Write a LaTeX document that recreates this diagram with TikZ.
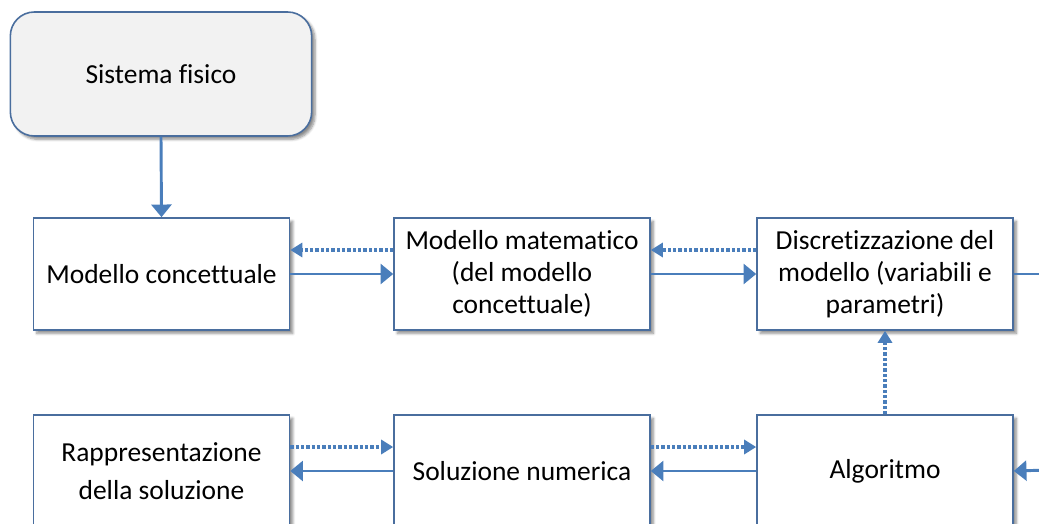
\documentclass[tikz,border=0pt]{standalone}
\usepackage{fontspec}
\setmainfont{Carlito}[Ligatures={NoCommon}]
\usetikzlibrary{arrows.meta,shadows.blur}

\definecolor{boxline}{HTML}{4A6E9E}
\definecolor{flow}{HTML}{4A7EBB}
\definecolor{paleface}{HTML}{F2F2F2}

\tikzset{
  stage/.style={draw=boxline, line width=1.2pt, fill=white,
    minimum width=192pt, minimum height=84pt, inner sep=2pt,
    align=center, font=\fontsize{20.6}{24}\selectfont,
    blur shadow={shadow xshift=2.5pt, shadow yshift=-2.5pt,
      shadow blur steps=6, shadow opacity=45}},
  origin/.style={stage, fill=paleface, rounded corners=18pt,
    minimum width=226pt, minimum height=93pt},
  mainflow/.style={draw=flow, line width=2.2pt,
    -{Triangle[length=9.5pt,width=15pt]}},
  plainflow/.style={draw=flow, line width=2.2pt},
  backflow/.style={draw=flow, line width=2.6pt, dash pattern=on 2.4pt off 1.6pt,
    -{Triangle[length=9pt,width=10.5pt]}}
}

\begin{document}
\begin{tikzpicture}[x=0.75pt,y=-0.75pt]
  \useasboundingbox (0,0) rectangle (1039,524);
  \clip (0,0) rectangle (1039,524);

  % stages of the modelling chain
  \node[origin] (sf)   at (161,74)    {Sistema fisico};
  \node[stage]  (mc)   at (161.5,274) {Modello concettuale};
  \node[stage]  (mm)   at (522,274)   {Modello matematico\\(del modello\\concettuale)};
  \node[stage]  (disc) at (885,274)   {Discretizzazione del\\modello (variabili e\\parametri)};
  \node[stage, font=\fontsize{20.6}{29}\selectfont]
                (rap)  at (161.5,471) {Rappresentazione\\della soluzione};
  \node[stage]  (sol)  at (522,471)   {Soluzione numerica};
  \node[stage]  (alg)  at (885,471)   {Algoritmo};

  % loose ends leaving and entering on the right
  \coordinate (outR) at (1050,274);
  \coordinate (inR)  at (1050,470);

  % forward flow
  \draw[mainflow] (sf.south) -- (mc.north);
  \draw[mainflow] (mc.east) -- (mm.west);
  \draw[mainflow] (mm.east) -- (disc.west);
  \draw[plainflow] (disc.east) -- (outR);
  \draw[mainflow] (inR) -- (alg.east);
  \draw[mainflow] (alg.west) -- (sol.east);
  \draw[mainflow] (sol.west) -- (rap.east);

  % feedback (dotted)
  \draw[backflow] ([yshift=18pt]mm.west) -- ([yshift=18pt]mc.east);
  \draw[backflow] ([yshift=18pt]disc.west) -- ([yshift=18pt]mm.east);
  \draw[backflow] (alg.north) -- (disc.south);
  \draw[backflow] ([yshift=18pt]rap.east) -- ([yshift=18pt]sol.west);
  \draw[backflow] ([yshift=18pt]sol.east) -- ([yshift=18pt]alg.west);
\end{tikzpicture}
\end{document}
